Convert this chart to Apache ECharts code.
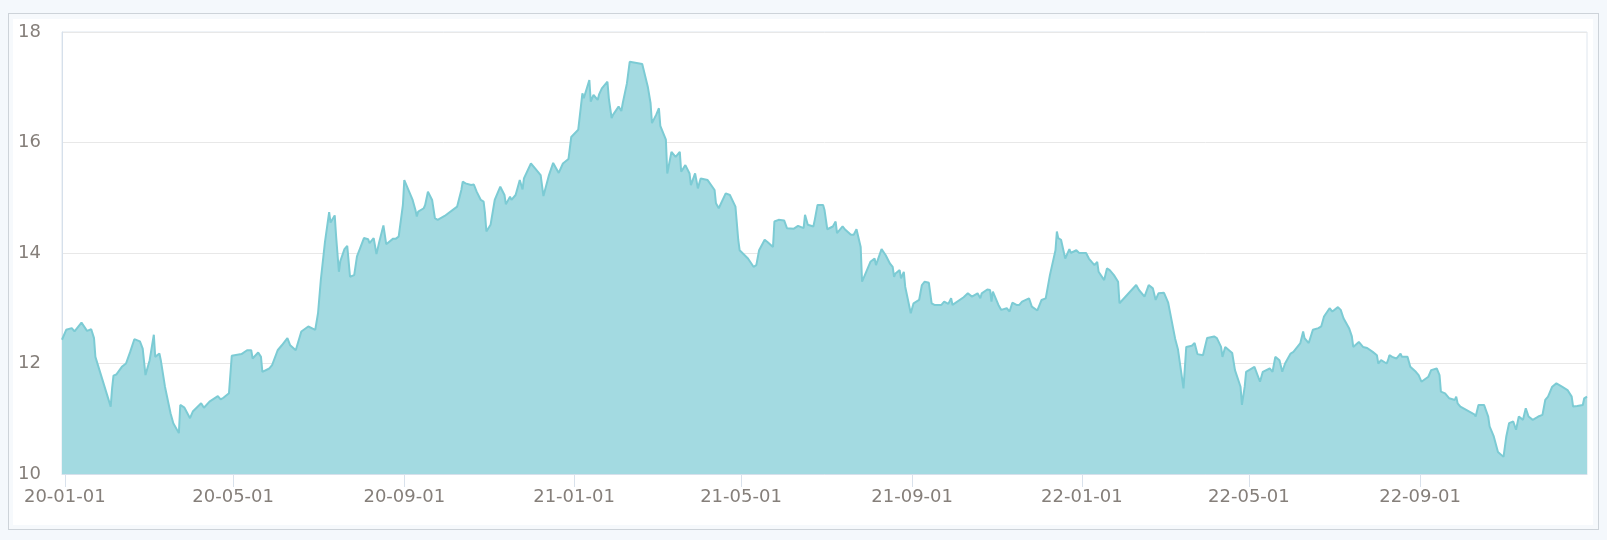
<!DOCTYPE html>
<html>
<head>
<meta charset="utf-8">
<script src="https://cdn.jsdelivr.net/npm/echarts@6/dist/echarts.min.js"></script>
<style>
html,body{margin:0;padding:0;width:1607px;height:540px;background:#f4f8fc;overflow:hidden;}
#frame{position:absolute;left:8px;top:13px;width:1591px;height:517px;box-sizing:border-box;border:1px solid #cdd3d9;background:#f6f9fc;}
#panel{position:absolute;left:13px;top:19px;width:1580px;height:506px;background:#ffffff;}
#chart{position:absolute;left:0;top:0;width:1607px;height:540px;}
</style>
</head>
<body>
<div id="frame"></div>
<div id="panel"></div>
<div id="chart"></div>
<script>
const dates = [
'2019-12-30','2020-01-02','2020-01-06','2020-01-08','2020-01-13','2020-01-17','2020-01-20','2020-01-22','2020-01-23','2020-02-03',
'2020-02-04','2020-02-05','2020-02-07','2020-02-11','2020-02-14','2020-02-17','2020-02-20','2020-02-24','2020-02-26','2020-02-28',
'2020-03-02','2020-03-05','2020-03-06','2020-03-09','2020-03-10','2020-03-13','2020-03-17','2020-03-19','2020-03-23','2020-03-24',
'2020-03-27','2020-03-31','2020-04-02','2020-04-08','2020-04-10','2020-04-14','2020-04-20','2020-04-22','2020-04-24','2020-04-28',
'2020-04-30','2020-05-07','2020-05-11','2020-05-14','2020-05-15','2020-05-19','2020-05-21','2020-05-22','2020-05-27','2020-05-29',
'2020-06-02','2020-06-05','2020-06-09','2020-06-11','2020-06-15','2020-06-19','2020-06-24','2020-06-29','2020-06-30','2020-07-01',
'2020-07-03','2020-07-06','2020-07-09','2020-07-10','2020-07-13','2020-07-14','2020-07-16','2020-07-17','2020-07-20','2020-07-22',
'2020-07-24','2020-07-27','2020-07-29','2020-07-31','2020-08-03','2020-08-06','2020-08-07','2020-08-10','2020-08-12','2020-08-14',
'2020-08-17','2020-08-19','2020-08-24','2020-08-26','2020-08-28','2020-08-31','2020-09-01','2020-09-02','2020-09-07','2020-09-09',
'2020-09-10','2020-09-11','2020-09-15','2020-09-16','2020-09-18','2020-09-21','2020-09-23','2020-09-25','2020-09-30','2020-10-09',
'2020-10-12','2020-10-13','2020-10-15','2020-10-19','2020-10-21','2020-10-23','2020-10-26','2020-10-28','2020-10-29','2020-10-30',
'2020-11-02','2020-11-05','2020-11-09','2020-11-12','2020-11-13','2020-11-16','2020-11-17','2020-11-20','2020-11-23','2020-11-25',
'2020-11-26','2020-11-27','2020-12-01','2020-12-04','2020-12-08','2020-12-10','2020-12-14','2020-12-17','2020-12-18','2020-12-21',
'2020-12-24','2020-12-28','2020-12-29','2020-12-30','2021-01-04','2021-01-07','2021-01-08','2021-01-12','2021-01-13','2021-01-15',
'2021-01-18','2021-01-19','2021-01-21','2021-01-22','2021-01-25','2021-01-26','2021-01-28','2021-01-29','2021-02-02','2021-02-04',
'2021-02-05','2021-02-08','2021-02-10','2021-02-19','2021-02-23','2021-02-25','2021-02-26','2021-03-01','2021-03-03','2021-03-04',
'2021-03-08','2021-03-09','2021-03-12','2021-03-15','2021-03-18','2021-03-19','2021-03-22','2021-03-25','2021-03-26','2021-03-29',
'2021-03-31','2021-04-02','2021-04-07','2021-04-12','2021-04-13','2021-04-15','2021-04-20','2021-04-23','2021-04-27','2021-04-29',
'2021-04-30','2021-05-06','2021-05-10','2021-05-12','2021-05-14','2021-05-18','2021-05-20','2021-05-24','2021-05-25','2021-05-28',
'2021-06-01','2021-06-03','2021-06-08','2021-06-11','2021-06-15','2021-06-16','2021-06-18','2021-06-22','2021-06-23','2021-06-25',
'2021-06-29','2021-06-30','2021-07-02','2021-07-06','2021-07-08','2021-07-09','2021-07-13','2021-07-15','2021-07-19','2021-07-21',
'2021-07-23','2021-07-26','2021-07-27','2021-07-29','2021-07-30','2021-08-02','2021-08-05','2021-08-06','2021-08-10','2021-08-13',
'2021-08-16','2021-08-18','2021-08-19','2021-08-20','2021-08-23','2021-08-24','2021-08-26','2021-08-27','2021-08-31','2021-09-02',
'2021-09-06','2021-09-08','2021-09-10','2021-09-13','2021-09-15','2021-09-17','2021-09-22','2021-09-24','2021-09-27','2021-09-29',
'2021-09-30','2021-10-08','2021-10-11','2021-10-12','2021-10-14','2021-10-18','2021-10-20','2021-10-21','2021-10-25','2021-10-27',
'2021-10-28','2021-10-29','2021-11-02','2021-11-04','2021-11-08','2021-11-10','2021-11-12','2021-11-15','2021-11-17','2021-11-19',
'2021-11-24','2021-11-26','2021-11-30','2021-12-03','2021-12-06','2021-12-09','2021-12-13','2021-12-14','2021-12-15','2021-12-17',
'2021-12-20','2021-12-23','2021-12-24','2021-12-28','2021-12-30','2022-01-04','2022-01-06','2022-01-10','2022-01-12','2022-01-13',
'2022-01-17','2022-01-19','2022-01-21','2022-01-24','2022-01-27','2022-01-28','2022-02-09','2022-02-11','2022-02-15','2022-02-18',
'2022-02-21','2022-02-23','2022-02-25','2022-03-01','2022-03-04','2022-03-09','2022-03-10','2022-03-11','2022-03-15','2022-03-17',
'2022-03-21','2022-03-23','2022-03-25','2022-03-29','2022-04-01','2022-04-06','2022-04-08','2022-04-11','2022-04-12','2022-04-14',
'2022-04-15','2022-04-19','2022-04-21','2022-04-25','2022-04-26','2022-04-28','2022-04-29','2022-05-05','2022-05-06','2022-05-09',
'2022-05-11','2022-05-16','2022-05-18','2022-05-20','2022-05-23','2022-05-25','2022-05-27','2022-05-31','2022-06-02','2022-06-07',
'2022-06-09','2022-06-10','2022-06-13','2022-06-16','2022-06-20','2022-06-22','2022-06-24','2022-06-28','2022-06-30','2022-07-04',
'2022-07-06','2022-07-08','2022-07-12','2022-07-14','2022-07-15','2022-07-19','2022-07-22','2022-07-25','2022-07-29','2022-08-01',
'2022-08-02','2022-08-04','2022-08-08','2022-08-09','2022-08-10','2022-08-12','2022-08-15','2022-08-18','2022-08-19','2022-08-23',
'2022-08-25','2022-08-29','2022-08-31','2022-09-02','2022-09-07','2022-09-09','2022-09-13','2022-09-15','2022-09-16','2022-09-19',
'2022-09-22','2022-09-26','2022-09-27','2022-09-28','2022-09-30','2022-10-10','2022-10-11','2022-10-13','2022-10-17','2022-10-20',
'2022-10-21','2022-10-24','2022-10-25','2022-10-27','2022-10-31','2022-11-02','2022-11-04','2022-11-07','2022-11-09','2022-11-11',
'2022-11-14','2022-11-16','2022-11-18','2022-11-21','2022-11-25','2022-11-28','2022-11-30','2022-12-02','2022-12-05','2022-12-08',
'2022-12-12','2022-12-14','2022-12-16','2022-12-19','2022-12-20','2022-12-23','2022-12-27','2022-12-28','2022-12-30'
];
const closes = [
12.43,12.61,12.64,12.58,12.74,12.59,12.62,12.46,12.12,11.22,
11.55,11.78,11.80,11.94,12.00,12.21,12.44,12.40,12.27,11.79,
12.06,12.52,12.12,12.18,12.06,11.58,11.10,10.92,10.74,11.25,
11.20,11.01,11.13,11.28,11.20,11.31,11.41,11.35,11.38,11.46,
12.14,12.17,12.24,12.24,12.09,12.20,12.12,11.85,11.91,11.97,
12.24,12.33,12.46,12.33,12.24,12.58,12.67,12.61,12.64,12.91,
13.51,14.20,14.74,14.55,14.68,14.30,13.66,13.85,14.07,14.13,
13.57,13.60,13.94,14.07,14.27,14.25,14.18,14.27,13.98,14.20,
14.50,14.16,14.26,14.26,14.30,14.87,15.32,15.29,14.96,14.78,
14.66,14.75,14.81,14.87,15.11,14.96,14.63,14.60,14.67,14.84,
15.14,15.29,15.26,15.23,15.24,15.11,14.96,14.93,14.72,14.39,
14.51,14.96,15.20,15.05,14.88,15.02,14.96,15.05,15.32,15.15,
15.35,15.35,15.62,15.53,15.41,15.03,15.41,15.63,15.65,15.45,
15.62,15.70,15.71,16.10,16.23,16.89,16.80,17.13,16.74,16.86,
16.77,16.87,16.98,17.00,17.10,16.80,16.44,16.50,16.65,16.57,
16.71,17.07,17.46,17.42,17.01,16.71,16.35,16.50,16.62,16.30,
16.05,15.44,15.83,15.74,15.83,15.47,15.59,15.44,15.23,15.44,
15.17,15.35,15.32,15.14,14.90,14.81,15.08,15.05,14.84,14.24,
14.05,13.90,13.75,13.78,14.05,14.24,14.20,14.11,14.57,14.60,
14.59,14.45,14.44,14.49,14.45,14.69,14.51,14.48,14.60,14.87,
14.87,14.78,14.43,14.48,14.57,14.36,14.48,14.42,14.33,14.33,
14.43,14.11,13.48,13.60,13.63,13.84,13.90,13.78,14.07,13.96,
13.81,13.75,13.57,13.63,13.69,13.54,13.66,13.39,12.91,13.09,
13.15,13.42,13.48,13.46,13.09,13.06,13.06,13.12,13.08,13.18,
13.06,13.20,13.27,13.28,13.21,13.27,13.18,13.27,13.34,13.33,
13.12,13.30,13.06,12.97,13.00,12.94,13.10,13.06,13.06,13.12,
13.18,13.03,12.96,13.15,13.18,13.60,14.05,14.39,14.27,14.24,
13.90,14.07,14.00,14.05,14.00,14.00,13.90,13.78,13.84,13.66,
13.51,13.72,13.69,13.60,13.48,13.09,13.42,13.33,13.21,13.42,
13.36,13.15,13.27,13.28,13.10,12.45,12.43,12.26,11.55,12.30,
12.32,12.37,12.17,12.15,12.46,12.49,12.46,12.30,12.12,12.30,
12.31,12.19,11.88,11.58,11.25,11.58,11.85,11.94,11.97,11.67,
11.85,11.91,11.85,12.12,12.06,11.85,12.00,12.18,12.21,12.37,
12.58,12.46,12.37,12.61,12.64,12.67,12.85,13.00,12.94,13.02,
12.97,12.82,12.64,12.49,12.30,12.39,12.30,12.28,12.21,12.15,
12.00,12.06,12.00,12.06,12.15,12.12,12.09,12.18,12.12,12.12,
11.94,11.85,11.79,11.67,11.76,11.88,11.91,11.79,11.49,11.46,
11.37,11.34,11.40,11.28,11.22,11.08,11.04,11.25,11.25,11.04,
10.86,10.68,10.68,10.40,10.31,10.68,10.92,10.95,10.80,11.04,
10.98,11.19,11.04,10.98,11.04,11.07,11.34,11.40,11.58,11.64,
11.58,11.55,11.52,11.40,11.22,11.23,11.25,11.37,11.40
];
const tickDates = ['2020-01-01','2020-05-01','2020-09-01','2021-01-01','2021-05-01','2021-09-01','2022-01-01','2022-05-01','2022-09-01'];
const yMin = 10, yMax = 18, yStep = 2;
const xMin = '2019-12-30', xMax = '2022-12-30';

function toTime(s){ const p = s.split('-'); return new Date(+p[0], +p[1]-1, +p[2]).getTime(); }
function pad(n){ return (n<10?'0':'')+n; }
function fmt(v){ const d = new Date(v); return pad(d.getFullYear()%100)+'-'+pad(d.getMonth()+1)+'-'+pad(d.getDate()); }

const seriesData = dates.map((d,i)=>[toTime(d), closes[i]]);
const tickVals = tickDates.map(toTime);

const chart = echarts.init(document.getElementById('chart'), null, {renderer:'canvas'});
chart.setOption({
  animation:false,
  backgroundColor:'transparent',
  grid:{left:62, right:20, top:32, bottom:66, show:true, borderColor:'#dfe6ee', borderWidth:1, backgroundColor:'transparent'},
  xAxis:{
    type:'value', min:toTime(xMin), max:toTime(xMax), scale:true,
    axisLine:{show:true, onZero:false, lineStyle:{color:'#d6e0eb', width:1}},
    axisTick:{show:true, customValues:tickVals, length:13, lineStyle:{color:'#d9e2ec'}},
    axisLabel:{customValues:tickVals, formatter:fmt, margin:14, color:'#857f7a', fontFamily:'DejaVu Sans', fontSize:18},
    splitLine:{show:false}
  },
  yAxis:{
    type:'value', min:yMin, max:yMax, interval:yStep,
    axisLine:{show:true, lineStyle:{color:'#d6e0eb', width:1}},
    axisTick:{show:false},
    axisLabel:{margin:21, color:'#857f7a', fontFamily:'DejaVu Sans', fontSize:18},
    splitLine:{show:true, lineStyle:{color:'#e8e8e8', width:1}}
  },
  series:[{
    type:'line', data:seriesData, showSymbol:false, symbol:'none', smooth:false,
    lineStyle:{color:'#7ccbd4', width:2},
    areaStyle:{color:'#a3dae1', opacity:1, origin:'start'},
    z:1
  }]
});
</script>
</body>
</html>
